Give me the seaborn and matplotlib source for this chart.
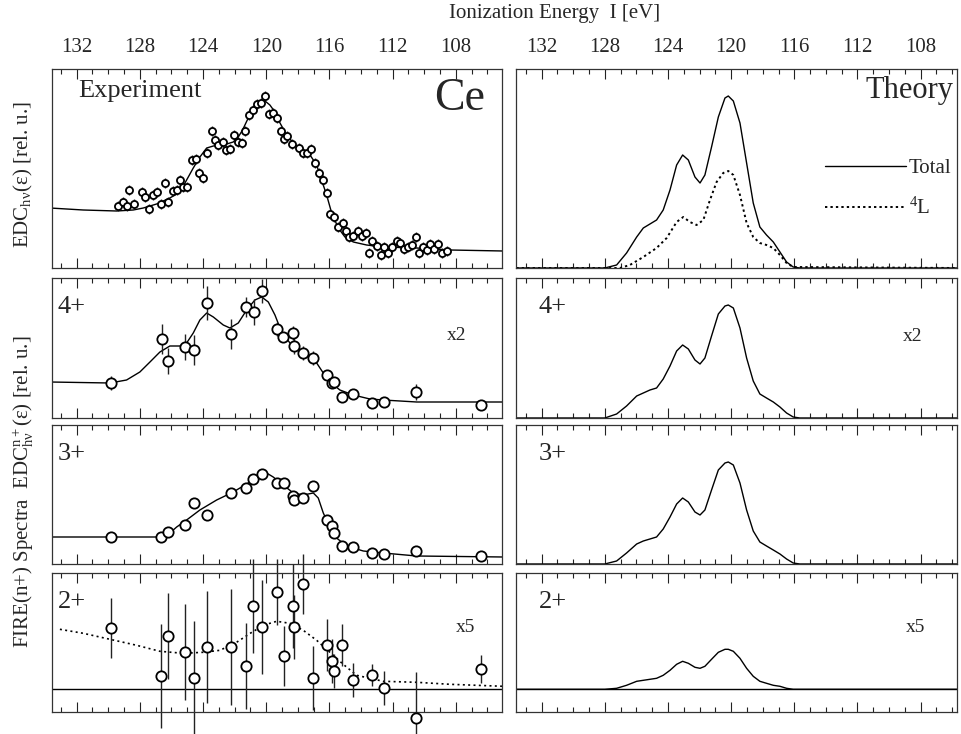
import numpy as np
import pandas as pd
import seaborn as sns
from matplotlib import pyplot as plt
from matplotlib.ticker import MultipleLocator

# Experiment, total electron spectrum (EDC)
exp_curve_ev = [133.69, 131.58, 129.47, 128.42, 127.78, 126.94, 126.10, 125.46, 125.04, 124.62,
                124.20, 123.77, 123.35, 122.93, 122.51, 122.09, 121.77, 121.50, 121.20, 120.86,
                120.50, 120.08, 119.77, 119.45, 119.13, 118.71, 118.18, 117.66, 117.23, 116.81,
                116.50, 116.18, 115.86, 115.44, 115.02, 114.49, 113.65, 112.59, 110.48, 108.37, 105.0]
exp_curve_y = [0.60, 0.58, 0.57, 0.58, 0.60, 0.64, 0.70, 0.76, 0.88, 1.00,
               1.11, 1.20, 1.22, 1.23, 1.24, 1.26, 1.31, 1.38, 1.48, 1.56,
               1.63, 1.67, 1.63, 1.56, 1.45, 1.33, 1.23, 1.18, 1.13, 1.03,
               0.88, 0.73, 0.55, 0.40, 0.31, 0.26, 0.23, 0.21, 0.20, 0.18, 0.17]
exp_ev = [129.37, 129.09, 128.84, 128.67, 128.35, 127.89, 127.68, 127.45, 127.15, 126.94,
          126.66, 126.41, 126.24, 125.88, 125.67, 125.46, 125.25, 125.04, 124.72, 124.47,
          124.24, 124.03, 123.77, 123.46, 123.25, 123.04, 122.76, 122.57, 122.30, 122.04,
          121.81, 121.56, 121.35, 121.07, 120.82, 120.61, 120.34, 120.08, 119.83, 119.56,
          119.34, 119.09, 118.88, 118.67, 118.40, 117.91, 117.66, 117.40, 117.15, 116.92,
          116.64, 116.39, 116.18, 115.97, 115.72, 115.44, 115.17, 114.96, 114.75, 114.49,
          114.22, 113.96, 113.71, 113.48, 113.29, 113.02, 112.76, 112.53, 112.28, 112.07,
          111.75, 111.54, 111.29, 111.01, 110.80, 110.53, 110.31, 110.06, 109.81, 109.64,
          109.39, 109.11, 108.86, 108.59]
exp_y = [0.62, 0.66, 0.62, 0.78, 0.64, 0.76, 0.71, 0.59, 0.73, 0.76,
         0.64, 0.85, 0.66, 0.77, 0.78, 0.88, 0.81, 0.81, 1.08, 1.09,
         0.95, 0.90, 1.15, 1.37, 1.28, 1.23, 1.26, 1.18, 1.19, 1.33,
         1.26, 1.25, 1.37, 1.53, 1.58, 1.64, 1.65, 1.72, 1.54, 1.55,
         1.50, 1.37, 1.29, 1.32, 1.24, 1.20, 1.15, 1.15, 1.19, 1.05,
         0.95, 0.88, 0.75, 0.54, 0.51, 0.41, 0.45, 0.37, 0.31, 0.32,
         0.37, 0.32, 0.35, 0.15, 0.27, 0.22, 0.13, 0.21, 0.15, 0.21,
         0.27, 0.25, 0.19, 0.21, 0.23, 0.31, 0.15, 0.21, 0.18, 0.24,
         0.19, 0.24, 0.15, 0.17]
exp_err = 0.05

# FIRE spectra, experiment
ion4_curve_ev = [133.69, 129.89, 128.84, 128.00, 127.36, 126.73, 126.10, 125.46, 125.04, 124.62,
                 124.20, 123.77, 123.35, 122.72, 122.30, 121.77, 121.24, 120.72, 120.29, 119.87,
                 119.45, 119.03, 118.50, 117.87, 117.23, 116.81, 116.39, 115.97, 115.34, 114.49,
                 113.44, 112.59, 110.48, 105.0]
ion4_curve_y = [0.36, 0.35, 0.38, 0.46, 0.56, 0.66, 0.72, 0.72, 0.75, 0.85,
                0.98, 1.05, 1.01, 0.93, 0.90, 0.95, 1.08, 1.18, 1.21, 1.16,
                1.03, 0.86, 0.75, 0.68, 0.61, 0.55, 0.45, 0.36, 0.28, 0.23,
                0.19, 0.18, 0.16, 0.16]
ion4_ev = [129.85, 126.62, 126.20, 125.15, 124.56, 123.77, 122.26, 121.31, 120.78, 120.27,
           119.34, 118.92, 118.33, 118.25, 117.70, 117.07, 116.18, 115.86, 115.72, 115.23,
           114.53, 113.29, 112.53, 110.53, 106.41]
ion4_y = [0.35, 0.79, 0.57, 0.71, 0.68, 1.15, 0.84, 1.11, 1.06, 1.27,
          0.89, 0.81, 0.85, 0.72, 0.65, 0.60, 0.43, 0.35, 0.36, 0.21,
          0.24, 0.15, 0.16, 0.26, 0.13]
ion4_err = [0.07, 0.15, 0.13, 0.13, 0.15, 0.17, 0.15, 0.10, 0.13, 0.12,
            0.07, 0.05, 0.07, 0.08, 0.07, 0.07, 0.05, 0.05, 0.03, 0.03,
            0.03, 0.03, 0.03, 0.08, 0.03]

ion3_curve_ev = [133.69, 129.89, 127.36, 126.52, 126.10, 125.67, 125.04, 124.20, 123.14, 122.09,
                 121.03, 120.40, 119.98, 119.56, 118.92, 118.29, 117.66, 117.02, 116.71, 116.39,
                 115.97, 115.55, 114.91, 113.86, 112.59, 110.48, 105.0]
ion3_curve_y = [0.27, 0.27, 0.27, 0.27, 0.31, 0.37, 0.44, 0.54, 0.64, 0.72,
                0.82, 0.90, 0.91, 0.87, 0.79, 0.71, 0.69, 0.71, 0.66, 0.51,
                0.37, 0.26, 0.18, 0.13, 0.11, 0.08, 0.07]
ion3_ev = [129.85, 126.66, 126.20, 125.15, 124.56, 123.77, 122.26, 121.31, 120.82, 120.27,
           119.34, 118.88, 118.33, 118.25, 117.66, 117.07, 116.18, 115.86, 115.72, 115.23,
           114.53, 113.29, 112.53, 110.53, 106.41]
ion3_y = [0.27, 0.27, 0.32, 0.39, 0.61, 0.49, 0.71, 0.76, 0.85, 0.90,
          0.81, 0.81, 0.68, 0.64, 0.66, 0.78, 0.44, 0.38, 0.31, 0.18,
          0.17, 0.11, 0.10, 0.13, 0.08]
ion3_err = 0.05

ion2_curve_ev = [133.06, 131.58, 129.89, 128.20, 126.73, 125.25, 123.99, 122.93, 121.88, 120.82,
                 119.98, 119.34, 118.50, 117.66, 116.81, 115.97, 115.13, 114.28, 113.44, 112.59,
                 110.48, 108.37, 105.0]
ion2_curve_y = [0.60, 0.56, 0.50, 0.44, 0.38, 0.36, 0.37, 0.39, 0.47, 0.58,
                0.65, 0.68, 0.66, 0.59, 0.49, 0.37, 0.25, 0.14, 0.11, 0.08,
                0.07, 0.05, 0.03]
ion2_ev = [129.85, 126.66, 126.20, 125.15, 124.56, 123.77, 122.26, 121.31, 120.82, 120.27,
           119.34, 118.88, 118.33, 118.25, 117.66, 117.07, 116.18, 115.86, 115.72, 115.23,
           114.49, 113.29, 112.53, 110.53, 106.41]
ion2_y = [0.61, 0.13, 0.53, 0.37, 0.11, 0.42, 0.42, 0.23, 0.83, 0.62,
          0.97, 0.33, 0.83, 0.62, 1.05, 0.11, 0.44, 0.28, 0.18, 0.44,
          0.09, 0.14, 0.01, -0.29, 0.20]
ion2_err = [0.30, 0.52, 0.43, 0.48, 0.57, 0.56, 0.58, 0.43, 0.47, 0.47,
            0.33, 0.30, 0.42, 0.32, 0.30, 0.32, 0.26, 0.22, 0.17, 0.21,
            0.17, 0.11, 0.17, 0.46, 0.14]

# Theory
theory_ev = [133.6, 128.0, 127.25, 126.62, 125.98, 125.56, 125.14, 124.72, 124.30, 123.87,
             123.45, 123.07, 122.71, 122.29, 121.97, 121.66, 121.24, 120.81, 120.39, 120.18,
             119.86, 119.44, 119.02, 118.60, 118.18, 117.76, 117.33, 116.91, 116.49, 116.07,
             115.65, 105.7]
theory_total = [0, 0, 0.03, 0.15, 0.31, 0.40, 0.44, 0.48, 0.58, 0.78,
                1.03, 1.13, 1.08, 0.91, 0.85, 0.93, 1.21, 1.51, 1.70, 1.72,
                1.67, 1.45, 1.05, 0.65, 0.41, 0.33, 0.26, 0.16, 0.06, 0.01, 0, 0]
theory_4 = [0, 0, 0.04, 0.12, 0.22, 0.25, 0.28, 0.30, 0.39, 0.52,
            0.67, 0.73, 0.69, 0.58, 0.54, 0.60, 0.82, 1.04, 1.12, 1.13,
            1.10, 0.90, 0.60, 0.37, 0.24, 0.20, 0.16, 0.11, 0.05, 0.01, 0, 0]
theory_3 = [0, 0, 0.03, 0.11, 0.20, 0.23, 0.25, 0.27, 0.35, 0.47,
            0.60, 0.66, 0.62, 0.52, 0.49, 0.54, 0.74, 0.94, 1.01, 1.02,
            0.99, 0.81, 0.54, 0.33, 0.22, 0.18, 0.14, 0.10, 0.05, 0.01, 0, 0]
theory_2 = [0, 0, 0.01, 0.04, 0.08, 0.09, 0.10, 0.11, 0.14, 0.19,
            0.25, 0.28, 0.26, 0.22, 0.21, 0.23, 0.30, 0.37, 0.40, 0.40,
            0.38, 0.31, 0.21, 0.13, 0.08, 0.06, 0.04, 0.03, 0.01, 0, 0, 0]
l4_ev = [133.6, 127.04, 126.41, 125.56, 124.72, 124.08, 123.45, 123.03, 122.61, 122.19,
         121.76, 121.34, 120.92, 120.50, 120.18, 119.86, 119.44, 119.02, 118.60, 118.18,
         117.76, 117.33, 116.91, 116.49, 116.07, 105.7]
l4_y = [0, 0, 0.03, 0.11, 0.20, 0.30, 0.46, 0.51, 0.46, 0.43,
        0.48, 0.68, 0.86, 0.95, 0.97, 0.93, 0.73, 0.45, 0.31, 0.25,
        0.23, 0.20, 0.13, 0.05, 0.01, 0]

sns.set_theme(style="ticks")
plt.rcParams['font.family'] = ['Liberation Serif', 'DejaVu Serif']
plt.rcParams['mathtext.fontset'] = 'custom'
plt.rcParams['mathtext.rm'] = 'Liberation Serif'
plt.rcParams['mathtext.it'] = 'Liberation Serif'

W, H = 961, 734
fig = plt.figure(figsize=(W / 100, H / 100), dpi=100)

rows = [(69, 268), (278, 418), (425, 564), (573, 712)]
ylims = [(0, 1.99), (0, 1.40), (0, 1.39), (-0.227, 1.163)]
cols = [(52, 502, (133.56, 105.08)), (516, 957, (133.62, 105.7))]

axes = []
for r, (top, bot) in enumerate(rows):
    line = []
    for c, (x0, x1, xl) in enumerate(cols):
        ax = fig.add_axes([x0 / W, 1 - bot / H, (x1 - x0) / W, (bot - top) / H])
        ax.set_xlim(*xl)
        ax.set_ylim(*ylims[r])
        ax.xaxis.set_major_locator(MultipleLocator(4))
        ax.xaxis.set_minor_locator(MultipleLocator(1))
        ax.tick_params(which='both', direction='in', top=True, bottom=True,
                       left=False, right=False, labelleft=False,
                       labelbottom=False, labeltop=(r == 0), color='#222222', width=0.8)
        ax.tick_params(which='major', length=7, labelsize=15, pad=9)
        ax.tick_params(which='minor', length=3.5)
        ax.set_yticks([])
        for s in ax.spines.values():
            s.set_linewidth(0.9)
            s.set_color('#333333')
        line.append(ax)
    axes.append(line)


def points(ax, ev, y, err, size):
    eb = ax.errorbar(ev, y, yerr=err, fmt='none', ecolor='#222222', elinewidth=1.0, capsize=0)
    for lc in eb.lines[2]:
        lc.set_clip_on(False)
    sns.scatterplot(x=ev, y=y, ax=ax, s=size, color='white', edgecolor='black',
                    linewidth=1.3, zorder=3, clip_on=False)


# experiment column
ax = axes[0][0]
sns.lineplot(x=exp_curve_ev, y=exp_curve_y, ax=ax, color='black', lw=1.0, sort=False, estimator=None)
points(ax, exp_ev, exp_y, exp_err, 26)
ax.text(0.058, 0.89, 'Experiment', transform=ax.transAxes, fontsize=19, va='center')
ax.text(0.962, 0.85, 'Ce', transform=ax.transAxes, fontsize=33, va='center', ha='right')

ax = axes[1][0]
sns.lineplot(x=ion4_curve_ev, y=ion4_curve_y, ax=ax, color='black', lw=1.0, sort=False, estimator=None)
points(ax, ion4_ev, ion4_y, ion4_err, 55)

ax = axes[2][0]
sns.lineplot(x=ion3_curve_ev, y=ion3_curve_y, ax=ax, color='black', lw=1.0, sort=False, estimator=None)
points(ax, ion3_ev, ion3_y, ion3_err, 55)

ax = axes[3][0]
ax.axhline(0, color='black', lw=1.0)
sns.lineplot(x=ion2_curve_ev, y=ion2_curve_y, ax=ax, color='black', lw=1.2, ls=(0, (1.2, 2.0)),
             sort=False, estimator=None)
points(ax, ion2_ev, ion2_y, ion2_err, 55)

# theory column
ax = axes[0][1]
sns.lineplot(x=theory_ev, y=theory_total, ax=ax, color='black', lw=1.0, sort=False,
             estimator=None, label='Total')
sns.lineplot(x=l4_ev, y=l4_y, ax=ax, color='black', lw=1.4, ls=(0, (1.2, 1.6)), sort=False,
             estimator=None, label=r'$^{4}$L')
ax.legend(loc='upper left', bbox_to_anchor=(0.70, 0.55), frameon=False, fontsize=15,
          handlelength=3.9, handletextpad=0.15, labelspacing=0.95, borderpad=0, borderaxespad=0)
ax.text(0.993, 0.89, 'Theory', transform=ax.transAxes, fontsize=22, va='center', ha='right')

for r, vals in zip([1, 2, 3], [theory_4, theory_3, theory_2]):
    ax = axes[r][1]
    if r == 3:
        ax.axhline(0, color='black', lw=1.0)
    sns.lineplot(x=theory_ev, y=vals, ax=ax, color='black', lw=1.0, sort=False, estimator=None)

labels = ['4+', '3+', '2+']
for r, lab in zip([1, 2, 3], labels):
    axes[r][0].text(0.012, 0.79, lab, transform=axes[r][0].transAxes, fontsize=19, va='center')
    axes[r][1].text(0.052, 0.79, lab, transform=axes[r][1].transAxes, fontsize=19, va='center')

axes[1][0].text(0.90, 0.59, 'x2', transform=axes[1][0].transAxes, fontsize=14, va='center', ha='center')
axes[1][1].text(0.90, 0.58, 'x2', transform=axes[1][1].transAxes, fontsize=14, va='center', ha='center')
axes[3][0].text(0.918, 0.61, 'x5', transform=axes[3][0].transAxes, fontsize=14, va='center', ha='center')
axes[3][1].text(0.905, 0.61, 'x5', transform=axes[3][1].transAxes, fontsize=14, va='center', ha='center')

fig.text(0.577, 0.982, 'Ionization Energy  I [eV]', fontsize=15, ha='center', va='center')
fig.text(0.024, 0.762, r'EDC$_{\mathrm{h\nu}}$(ε) [rel. u.]', fontsize=15,
         rotation=90, ha='center', va='center')
fig.text(0.024, 0.33, r'FIRE(n+) Spectra  EDC$^{\mathrm{n+}}_{\mathrm{h\nu}}$(ε) [rel. u.]', fontsize=15,
         rotation=90, ha='center', va='center')

fig.savefig('out.png', dpi=100)
